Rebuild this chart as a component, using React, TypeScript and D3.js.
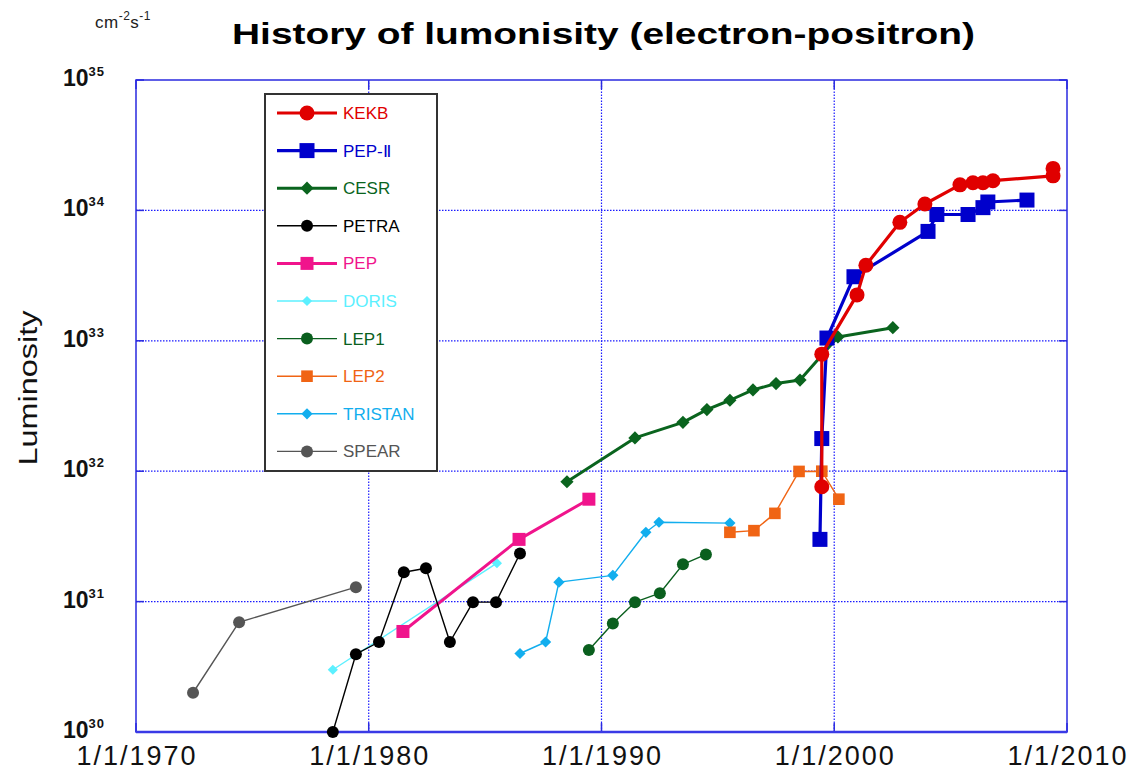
import React from 'react'
import * as d3 from 'd3'

// [date, luminosity cm^-2 s^-1]
type Pt = [string, number]

const KEKB: Pt[] = [
  ['1999-06-20', 7.6e31], ['1999-06-20', 7.9e32], ['2000-12-24', 2.25e33], ['2001-05-12', 3.8e33],
  ['2002-10-27', 8.1e33], ['2003-11-24', 1.12e34], ['2005-05-27', 1.57e34], ['2005-12-17', 1.63e34],
  ['2006-05-23', 1.63e34], ['2006-10-27', 1.69e34], ['2009-05-27', 1.84e34], ['2009-05-27', 2.1e34],
]
const PEP2: Pt[] = [
  ['1999-05-22', 3.0e31], ['1999-06-20', 1.78e32], ['1999-09-09', 1.05e33], ['2000-11-06', 3.1e33],
  ['2004-01-12', 6.9e33], ['2004-05-30', 9.3e33], ['2005-10-01', 9.3e33], ['2006-05-23', 1.05e34],
  ['2006-08-08', 1.16e34], ['2008-04-13', 1.2e34],
]
const CESR: Pt[] = [
  ['1988-07-08', 8.3e31], ['1991-06-10', 1.8e32], ['1993-07-02', 2.37e32], ['1994-07-13', 2.97e32],
  ['1995-07-09', 3.5e32], ['1996-07-05', 4.2e32], ['1997-07-02', 4.7e32], ['1998-07-13', 5.0e32],
  ['2000-02-28', 1.07e33], ['2002-07-09', 1.26e33],
]
const PETRA: Pt[] = [
  ['1978-06-17', 1.0e30], ['1979-06-14', 3.95e30], ['1980-06-10', 4.9e30], ['1981-07-05', 1.68e31],
  ['1982-06-17', 1.8e31], ['1983-06-28', 4.9e30], ['1984-06-24', 9.9e30], ['1985-06-21', 9.9e30],
  ['1986-07-02', 2.34e31],
]
const PEP: Pt[] = [['1981-06-21', 5.9e30], ['1986-06-17', 3.0e31], ['1989-06-17', 6.1e31]]
const DORIS: Pt[] = [['1978-06-17', 3.0e30], ['1985-07-05', 1.97e31]]
const LEP1: Pt[] = [
  ['1989-06-17', 4.25e30], ['1990-06-28', 6.8e30], ['1991-06-10', 9.9e30], ['1992-07-05', 1.16e31],
  ['1993-07-02', 1.93e31], ['1994-06-28', 2.3e31],
]
const LEP2: Pt[] = [
  ['1995-07-09', 3.4e31], ['1996-07-20', 3.5e31], ['1997-06-14', 4.75e31], ['1998-06-28', 9.96e31],
  ['1999-06-20', 1.0e32], ['2000-03-14', 6.1e31],
]
const TRISTAN: Pt[] = [
  ['1986-07-02', 4.0e30], ['1987-08-08', 4.9e30], ['1988-03-04', 1.41e31], ['1990-06-28', 1.59e31],
  ['1991-11-28', 3.4e31], ['1992-06-21', 4.06e31], ['1995-07-09', 4.0e31],
]
const SPEAR: Pt[] = [['1972-06-14', 2.0e30], ['1974-06-07', 6.95e30], ['1979-06-14', 1.29e31]]

const xTicks = ['1970-01-01', '1980-01-01', '1990-01-01', '2000-01-01', '2010-01-01']
const yExponents = [30, 31, 32, 33, 34, 35]

type Shape = 'circle' | 'square' | 'diamond'
const series: { name: string; data: Pt[]; color: string; width: number; shape: Shape; size: number }[] = [
  { name: 'KEKB', data: KEKB, color: '#e00000', width: 3.2, shape: 'circle', size: 7.5 },
  { name: 'PEP-Ⅱ', data: PEP2, color: '#0000cc', width: 3.2, shape: 'square', size: 7.5 },
  { name: 'CESR', data: CESR, color: '#0a641e', width: 3, shape: 'diamond', size: 6.5 },
  { name: 'PETRA', data: PETRA, color: '#000000', width: 1.4, shape: 'circle', size: 6 },
  { name: 'PEP', data: PEP, color: '#f0148c', width: 3, shape: 'square', size: 6.5 },
  { name: 'DORIS', data: DORIS, color: '#5cf0ff', width: 1.4, shape: 'diamond', size: 5 },
  { name: 'LEP1', data: LEP1, color: '#0a5f1e', width: 1.4, shape: 'circle', size: 6 },
  { name: 'LEP2', data: LEP2, color: '#f06414', width: 1.4, shape: 'square', size: 5.8 },
  { name: 'TRISTAN', data: TRISTAN, color: '#12aeee', width: 1.4, shape: 'diamond', size: 5.5 },
  { name: 'SPEAR', data: SPEAR, color: '#555555', width: 1.4, shape: 'circle', size: 6 },
]

const W = 1133
const H = 773
const margin = { left: 136, right: 66, top: 80, bottom: 41 }

const parse = d3.timeParse('%Y-%m-%d')

function Marker({ shape, x, y, r, color }: { shape: Shape; x: number; y: number; r: number; color: string }) {
  if (shape === 'circle') return <circle cx={x} cy={y} r={r} fill={color} />
  if (shape === 'square') return <rect x={x - r} y={y - r} width={2 * r} height={2 * r} fill={color} />
  return <rect x={x - r * 0.72} y={y - r * 0.72} width={r * 1.44} height={r * 1.44} fill={color}
    transform={`rotate(45 ${x} ${y})`} />
}

export default function App() {
  const x = d3.scaleTime()
    .domain([parse('1970-01-01')!, parse('2010-01-01')!])
    .range([margin.left, W - margin.right])
  const y = d3.scaleLog()
    .domain([1e30, 1e35])
    .range([H - margin.bottom, margin.top])

  const line = d3.line<Pt>()
    .x(d => x(parse(d[0])!))
    .y(d => y(d[1]))

  const [x0, x1] = x.range()
  const [y0, y1] = y.range()
  const font = '"Liberation Sans", Arial, sans-serif'

  const legend = { x: 265, y: 94, w: 172, h: 377, row0: 113, step: 37.6 }

  return (
    <svg width={W} height={H} style={{ position: 'absolute', left: 0, top: 0, background: '#fff' }}
      fontFamily={font}>
      {/* title + unit */}
      <text x={232} y={44} fontSize={29} fontWeight="bold" textLength={743} lengthAdjust="spacingAndGlyphs">
        History of lumonisity (electron-positron)
      </text>
      <text x={95} y={28} fontSize={17} fill="#222" letterSpacing={0.5}>
        cm<tspan dy={-8} fontSize={12}>-2</tspan><tspan dy={8}>s</tspan><tspan dy={-8} fontSize={12}>-1</tspan>
      </text>

      {/* grid */}
      {yExponents.slice(1, -1).map(e => (
        <line key={'gy' + e} x1={x0} x2={x1} y1={y(10 ** e)} y2={y(10 ** e)}
          stroke="#1a1aff" strokeWidth={1.2} strokeDasharray="1.5,1.5" />
      ))}
      {xTicks.slice(1, -1).map(t => (
        <line key={'gx' + t} x1={x(parse(t)!)} x2={x(parse(t)!)} y1={y0} y2={y1}
          stroke="#1a1aff" strokeWidth={1.2} strokeDasharray="1.5,1.5" />
      ))}

      {/* inner ticks */}
      {yExponents.map(e => (
        <g key={'ty' + e} stroke="#2a2ae0" strokeWidth={1.5}>
          <line x1={x0} x2={x0 + 8} y1={y(10 ** e)} y2={y(10 ** e)} />
          <line x1={x1 - 8} x2={x1} y1={y(10 ** e)} y2={y(10 ** e)} />
        </g>
      ))}
      {xTicks.map(t => (
        <g key={'tx' + t} stroke="#2a2ae0" strokeWidth={1.5}>
          <line x1={x(parse(t)!)} x2={x(parse(t)!)} y1={y0} y2={y0 - 9} />
          <line x1={x(parse(t)!)} x2={x(parse(t)!)} y1={y1} y2={y1 + 9} />
        </g>
      ))}

      {/* frame */}
      <rect x={x0} y={y1} width={x1 - x0} height={y0 - y1} fill="none" stroke="#2a2ae0" strokeWidth={1.5} />
      <line x1={x0} x2={x1} y1={y0} y2={y0} stroke="#3a3ae6" strokeWidth={2.5} />

      {/* series, legend order reversed so KEKB is on top */}
      {[...series].reverse().map(s => (
        <g key={s.name}>
          <path d={line(s.data) ?? ''} fill="none" stroke={s.color} strokeWidth={s.width} strokeLinejoin="round" />
          {s.data.map((d, i) => (
            <Marker key={i} shape={s.shape} x={x(parse(d[0])!)} y={y(d[1])} r={s.size} color={s.color} />
          ))}
        </g>
      ))}

      {/* axis labels */}
      {xTicks.map(t => (
        <text key={'lx' + t} x={x(parse(t)!)} y={765} fontSize={27} textAnchor="middle" fill="#111"
          textLength={119} lengthAdjust="spacing">
          {d3.timeFormat('%-m/%-d/%Y')(parse(t)!)}
        </text>
      ))}
      {yExponents.map(e => (
        <text key={'ly' + e} x={63} y={y(10 ** e) + 6} fontSize={23} fontWeight="bold" fill="#111">
          10<tspan dy={-10} fontSize={13} letterSpacing={1}>{e}</tspan>
        </text>
      ))}
      <text transform={`translate(37,388) rotate(-90)`} fontSize={25} textAnchor="middle" fill="#111"
        textLength={155} lengthAdjust="spacingAndGlyphs">
        Luminosity
      </text>

      {/* legend */}
      <rect x={legend.x} y={legend.y} width={legend.w} height={legend.h} fill="#fff" stroke="#333" strokeWidth={2} />
      {series.map((s, i) => {
        const ly = legend.row0 + i * legend.step
        return (
          <g key={'lg' + s.name}>
            <line x1={277} x2={337} y1={ly} y2={ly} stroke={s.color} strokeWidth={s.width} />
            <Marker shape={s.shape} x={307} y={ly} r={s.size} color={s.color} />
            <text x={343} y={ly + 6} fontSize={17} fill={s.color}>{s.name}</text>
          </g>
        )
      })}
    </svg>
  )
}
